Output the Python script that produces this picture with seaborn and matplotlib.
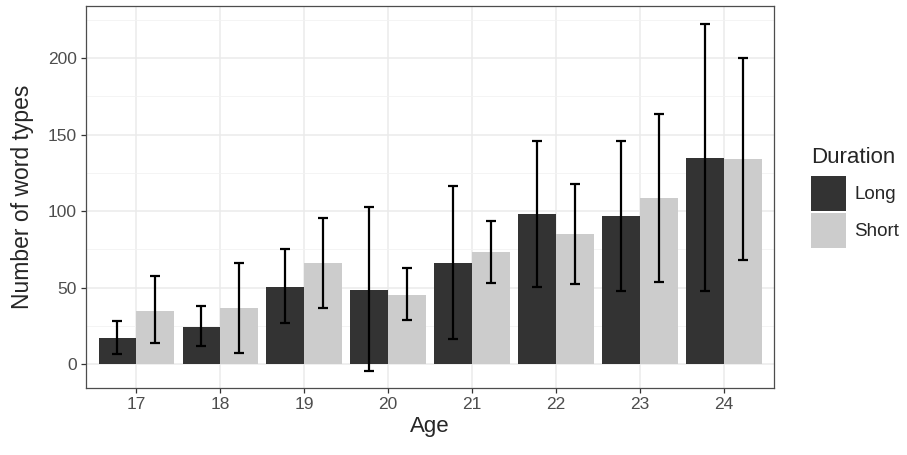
import pandas as pd
import numpy as np
from matplotlib import pyplot as plt
from matplotlib.ticker import MultipleLocator
import seaborn as sns

ages = ['17', '18', '19', '20', '21', '22', '23', '24']
long_mean = [17.2, 24.4, 50.7, 48.7, 66.3, 97.9, 96.6, 134.9]
long_lo = [6.9, 11.7, 26.8, -4.6, 16.5, 50.5, 47.9, 47.9]
long_hi = [28.5, 37.9, 75.3, 102.7, 116.6, 145.6, 146.0, 222.4]
short_mean = [35.0, 36.8, 66.1, 45.4, 73.1, 84.9, 108.6, 133.9]
short_lo = [13.7, 7.6, 36.8, 28.9, 52.9, 52.6, 53.9, 68.3]
short_hi = [57.5, 66.3, 95.7, 63.1, 93.8, 117.7, 163.6, 200.0]

df = pd.DataFrame({
    'Age': ages * 2,
    'Duration': ['Long'] * 8 + ['Short'] * 8,
    'types': long_mean + short_mean,
    'lo': long_lo + short_lo,
    'hi': long_hi + short_hi,
})

sns.set_style('white')
plt.rcParams['font.family'] = ['Liberation Sans', 'DejaVu Sans']

fig, ax = plt.subplots(figsize=(9.07, 4.55), dpi=100)
fig.subplots_adjust(left=0.0948, right=0.8537, top=0.9868, bottom=0.1466)

sns.barplot(data=df, x='Age', y='types', hue='Duration', order=ages,
            hue_order=['Long', 'Short'], palette=['#333333', '#CCCCCC'],
            width=0.9, saturation=1, errorbar=None, linewidth=0, ax=ax, legend=True)

for cont, lev in zip(ax.containers, ['Long', 'Short']):
    sub = df[df['Duration'] == lev].set_index('Age').loc[ages]
    xs = [p.get_x() + p.get_width() / 2 for p in cont.patches]
    ax.errorbar(xs, sub['types'],
                yerr=[sub['types'] - sub['lo'], sub['hi'] - sub['types']],
                fmt='none', ecolor='black', elinewidth=1.6, capsize=3.6,
                capthick=1.6, zorder=5)

ax.set_xlim(-0.6, 7.6)
ax.set_ylim(-15.7, 234)
ax.yaxis.set_major_locator(MultipleLocator(50))
ax.yaxis.set_minor_locator(MultipleLocator(25))
ax.grid(True, which='major', color='#EBEBEB', lw=1.1)
ax.grid(True, which='minor', axis='y', color='#F2F2F2', lw=0.6)
ax.set_axisbelow(True)
for s in ax.spines.values():
    s.set_color('#4D4D4D')
    s.set_linewidth(0.9)
ax.tick_params(axis='both', which='major', length=3.5, width=0.9, color='#333333',
               labelsize=12.5, labelcolor='#4D4D4D', pad=3, bottom=True, left=True)
ax.tick_params(axis='both', which='minor', length=0)
ax.set_xlabel('Age', fontsize=16, labelpad=3)
ax.set_ylabel('Number of word types', fontsize=16.5, labelpad=10)

h, l = ax.get_legend_handles_labels()
ax.get_legend().remove()
leg = fig.legend(h, l, title='Duration', loc='upper left', bbox_to_anchor=(0.894, 0.678),
                 frameon=False, fontsize=13.5, title_fontsize=16, handlelength=1.87,
                 handleheight=2.49, labelspacing=0.12, handletextpad=0.45,
                 alignment='left', borderaxespad=0, borderpad=0)
leg._legend_box.sep = 6

plt.savefig('out.png', dpi=100)
